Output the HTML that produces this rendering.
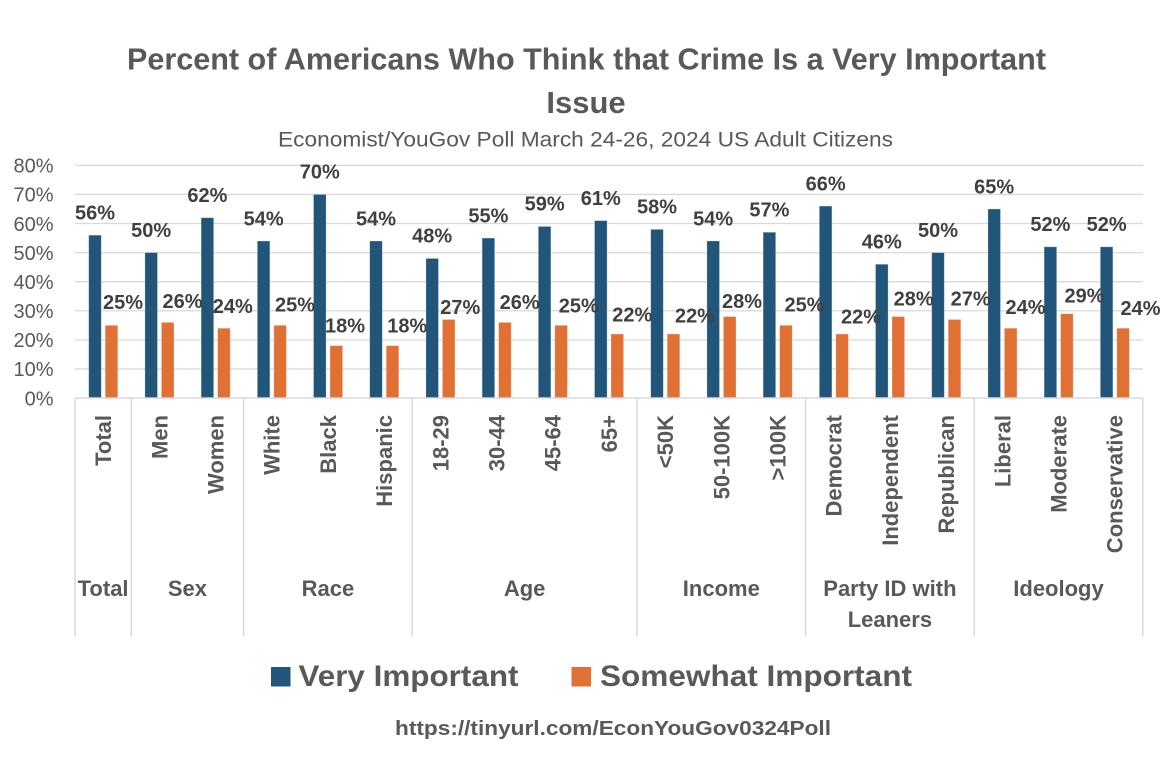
<!DOCTYPE html>
<html>
<head>
<meta charset="utf-8">
<style>
  html,body{margin:0;padding:0;background:#fff;}
  svg{display:block;}
  text{font-family:"Liberation Sans", Arial, sans-serif;}
</style>
</head>
<body>
<svg width="1170" height="775" viewBox="0 0 1170 775" xmlns="http://www.w3.org/2000/svg">
  <rect x="0" y="0" width="1170" height="775" fill="#ffffff"/>

  <!-- Title -->
  <text x="586.5" y="69.5" text-anchor="middle" font-size="31" font-weight="bold" fill="#595959" textLength="919" lengthAdjust="spacingAndGlyphs">Percent of Americans Who Think that Crime Is a Very Important</text>
  <text x="586" y="113" text-anchor="middle" font-size="31" font-weight="bold" fill="#595959">Issue</text>
  <text x="585.5" y="146.5" text-anchor="middle" font-size="21" fill="#595959" textLength="615" lengthAdjust="spacingAndGlyphs">Economist/YouGov Poll March 24-26, 2024 US Adult Citizens</text>

  <!-- Gridlines -->
  <g stroke="#d9d9d9" stroke-width="1.3">
    <line x1="75" y1="368.92" x2="1143" y2="368.92"/>
    <line x1="75" y1="339.84" x2="1143" y2="339.84"/>
    <line x1="75" y1="310.76" x2="1143" y2="310.76"/>
    <line x1="75" y1="281.68" x2="1143" y2="281.68"/>
    <line x1="75" y1="252.6" x2="1143" y2="252.6"/>
    <line x1="75" y1="223.52" x2="1143" y2="223.52"/>
    <line x1="75" y1="194.44" x2="1143" y2="194.44"/>
    <line x1="75" y1="165.36" x2="1143" y2="165.36"/>
  </g>

  <!-- Y tick labels -->
  <g font-size="20" fill="#595959" text-anchor="end">
    <text x="53.5" y="405.3">0%</text>
    <text x="53.5" y="376.2">10%</text>
    <text x="53.5" y="347.1">20%</text>
    <text x="53.5" y="318.1">30%</text>
    <text x="53.5" y="289.0">40%</text>
    <text x="53.5" y="259.9">50%</text>
    <text x="53.5" y="230.8">60%</text>
    <text x="53.5" y="201.7">70%</text>
    <text x="53.5" y="172.7">80%</text>
  </g>

  <!-- Blue bars -->
  <g fill="#22557a" stroke="#ffffff" stroke-opacity="0.35" stroke-width="0.8">
    <rect x="88.7" y="235.15" width="12.6" height="162.85"/>
    <rect x="144.9" y="252.6" width="12.6" height="145.4"/>
    <rect x="201.1" y="217.7" width="12.6" height="180.3"/>
    <rect x="257.3" y="240.97" width="12.6" height="157.03"/>
    <rect x="313.5" y="194.44" width="12.6" height="203.56"/>
    <rect x="369.7" y="240.97" width="12.6" height="157.03"/>
    <rect x="425.9" y="258.42" width="12.6" height="139.58"/>
    <rect x="482.1" y="238.06" width="12.6" height="159.94"/>
    <rect x="538.3" y="226.43" width="12.6" height="171.57"/>
    <rect x="594.5" y="220.61" width="12.6" height="177.39"/>
    <rect x="650.7" y="229.34" width="12.6" height="168.66"/>
    <rect x="706.9" y="240.97" width="12.6" height="157.03"/>
    <rect x="763.1" y="232.24" width="12.6" height="165.76"/>
    <rect x="819.3" y="206.07" width="12.6" height="191.93"/>
    <rect x="875.5" y="264.23" width="12.6" height="133.77"/>
    <rect x="931.7" y="252.6" width="12.6" height="145.4"/>
    <rect x="987.9" y="208.98" width="12.6" height="189.02"/>
    <rect x="1044.1" y="246.78" width="12.6" height="151.22"/>
    <rect x="1100.3" y="246.78" width="12.6" height="151.22"/>
  </g>

  <!-- Orange bars -->
  <g fill="#e07034" stroke="#ffffff" stroke-opacity="0.35" stroke-width="0.8">
    <rect x="105.2" y="325.3" width="12.6" height="72.7"/>
    <rect x="161.4" y="322.39" width="12.6" height="75.61"/>
    <rect x="217.6" y="328.21" width="12.6" height="69.79"/>
    <rect x="273.8" y="325.3" width="12.6" height="72.7"/>
    <rect x="330.0" y="345.66" width="12.6" height="52.34"/>
    <rect x="386.2" y="345.66" width="12.6" height="52.34"/>
    <rect x="442.4" y="319.48" width="12.6" height="78.52"/>
    <rect x="498.6" y="322.39" width="12.6" height="75.61"/>
    <rect x="554.8" y="325.3" width="12.6" height="72.7"/>
    <rect x="611.0" y="334.02" width="12.6" height="63.98"/>
    <rect x="667.2" y="334.02" width="12.6" height="63.98"/>
    <rect x="723.4" y="316.58" width="12.6" height="81.42"/>
    <rect x="779.6" y="325.3" width="12.6" height="72.7"/>
    <rect x="835.8" y="334.02" width="12.6" height="63.98"/>
    <rect x="892.0" y="316.58" width="12.6" height="81.42"/>
    <rect x="948.2" y="319.48" width="12.6" height="78.52"/>
    <rect x="1004.4" y="328.21" width="12.6" height="69.79"/>
    <rect x="1060.6" y="313.67" width="12.6" height="84.33"/>
    <rect x="1116.8" y="328.21" width="12.6" height="69.79"/>
  </g>

  <!-- Axis and category dividers -->
  <g stroke="#d9d9d9" stroke-width="1.5">
    <line x1="75" y1="398" x2="1143" y2="398"/>
    <line x1="75" y1="398" x2="75" y2="636.5"/>
    <line x1="131.2" y1="398" x2="131.2" y2="636.5"/>
    <line x1="243.6" y1="398" x2="243.6" y2="636.5"/>
    <line x1="412.2" y1="398" x2="412.2" y2="636.5"/>
    <line x1="637.0" y1="398" x2="637.0" y2="636.5"/>
    <line x1="805.6" y1="398" x2="805.6" y2="636.5"/>
    <line x1="974.2" y1="398" x2="974.2" y2="636.5"/>
    <line x1="1142.8" y1="398" x2="1142.8" y2="636.5"/>
  </g>

  <!-- Blue data labels -->
  <g font-size="20" font-weight="bold" fill="#404040" text-anchor="middle">
    <text x="95.0" y="219.45">56%</text>
    <text x="151.2" y="236.9">50%</text>
    <text x="207.4" y="202.0">62%</text>
    <text x="263.6" y="225.27">54%</text>
    <text x="319.8" y="178.74">70%</text>
    <text x="376.0" y="225.27">54%</text>
    <text x="432.2" y="242.72">48%</text>
    <text x="488.4" y="222.36">55%</text>
    <text x="544.6" y="210.73">59%</text>
    <text x="600.8" y="204.91">61%</text>
    <text x="657.0" y="213.64">58%</text>
    <text x="713.2" y="225.27">54%</text>
    <text x="769.4" y="216.54">57%</text>
    <text x="825.6" y="190.37">66%</text>
    <text x="881.8" y="248.53">46%</text>
    <text x="938.0" y="236.9">50%</text>
    <text x="994.2" y="193.28">65%</text>
    <text x="1050.4" y="231.08">52%</text>
    <text x="1106.6" y="231.08">52%</text>
  </g>

  <!-- Orange data labels -->
  <g font-size="20" font-weight="bold" fill="#404040" text-anchor="middle">
    <text x="123.0" y="309.0">25%</text>
    <text x="182.5" y="308.0">26%</text>
    <text x="232.8" y="313.0">24%</text>
    <text x="295.0" y="311.3">25%</text>
    <text x="345.0" y="332.3">18%</text>
    <text x="407.3" y="332.3">18%</text>
    <text x="460.3" y="314.0">27%</text>
    <text x="519.7" y="309.0">26%</text>
    <text x="578.8" y="312.3">25%</text>
    <text x="632.3" y="321.6">22%</text>
    <text x="695.0" y="322.3">22%</text>
    <text x="742.0" y="308.0">28%</text>
    <text x="804.5" y="311.3">25%</text>
    <text x="861.0" y="323.3">22%</text>
    <text x="913.7" y="305.6">28%</text>
    <text x="970.7" y="305.6">27%</text>
    <text x="1025.5" y="314.0">24%</text>
    <text x="1084.5" y="302.3">29%</text>
    <text x="1140.5" y="315.0">24%</text>
  </g>

  <!-- Category labels (rotated) -->
  <g font-size="22" font-weight="bold" fill="#595959" text-anchor="end">
    <text transform="translate(103.1,415) rotate(-90)" x="0" y="8">Total</text>
    <text transform="translate(159.3,415) rotate(-90)" x="0" y="8">Men</text>
    <text transform="translate(215.5,415) rotate(-90)" x="0" y="8">Women</text>
    <text transform="translate(271.7,415) rotate(-90)" x="0" y="8">White</text>
    <text transform="translate(327.9,415) rotate(-90)" x="0" y="8">Black</text>
    <text transform="translate(384.1,415) rotate(-90)" x="0" y="8">Hispanic</text>
    <text transform="translate(440.3,415) rotate(-90)" x="0" y="8">18-29</text>
    <text transform="translate(496.5,415) rotate(-90)" x="0" y="8">30-44</text>
    <text transform="translate(552.7,415) rotate(-90)" x="0" y="8">45-64</text>
    <text transform="translate(608.9,415) rotate(-90)" x="0" y="8">65+</text>
    <text transform="translate(665.1,415) rotate(-90)" x="0" y="8">&lt;50K</text>
    <text transform="translate(721.3,415) rotate(-90)" x="0" y="8">50-100K</text>
    <text transform="translate(777.5,415) rotate(-90)" x="0" y="8">&gt;100K</text>
    <text transform="translate(833.7,415) rotate(-90)" x="0" y="8">Democrat</text>
    <text transform="translate(889.9,415) rotate(-90)" x="0" y="8">Independent</text>
    <text transform="translate(946.1,415) rotate(-90)" x="0" y="8">Republican</text>
    <text transform="translate(1002.3,415) rotate(-90)" x="0" y="8">Liberal</text>
    <text transform="translate(1058.5,415) rotate(-90)" x="0" y="8">Moderate</text>
    <text transform="translate(1114.7,415) rotate(-90)" x="0" y="8">Conservative</text>
  </g>

  <!-- Group labels -->
  <g font-size="22" font-weight="bold" fill="#595959" text-anchor="middle">
    <text x="103.1" y="596">Total</text>
    <text x="187.4" y="596">Sex</text>
    <text x="327.9" y="596">Race</text>
    <text x="524.6" y="596">Age</text>
    <text x="721.3" y="596">Income</text>
    <text x="889.9" y="596">Party ID with</text>
    <text x="889.9" y="627">Leaners</text>
    <text x="1058.5" y="596">Ideology</text>
  </g>

  <!-- Legend -->
  <rect x="271" y="667" width="19.5" height="19.5" fill="#22557a"/>
  <text x="298.5" y="686" font-size="30" font-weight="bold" fill="#595959" textLength="220" lengthAdjust="spacingAndGlyphs">Very Important</text>
  <rect x="571.5" y="667" width="19.5" height="19.5" fill="#e07034"/>
  <text x="600" y="686" font-size="30" font-weight="bold" fill="#595959" textLength="312" lengthAdjust="spacingAndGlyphs">Somewhat Important</text>

  <!-- URL -->
  <text x="395" y="735" font-size="20" font-weight="bold" fill="#595959" textLength="436" lengthAdjust="spacingAndGlyphs">https://tinyurl.com/EconYouGov0324Poll</text>
</svg>
</body>
</html>
